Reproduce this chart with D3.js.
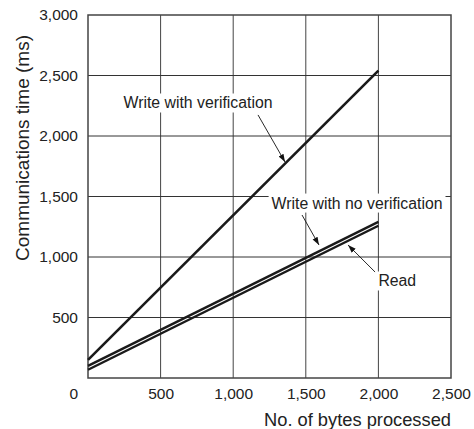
<!DOCTYPE html>
<html lang="en">
<head>
  <meta charset="UTF-8"/>
  <title>Communications time vs bytes processed</title>
  <style>
    *{margin:0;padding:0}
    body{background:#fff;font-family:"Liberation Sans",Arial,sans-serif}
    svg text{fill:#222}
  </style>
</head>
<body>
  <div id="chart"></div>
  <script src="https://d3js.org/d3.v7.min.js"></script>
  <script>
    // axis ticks
    const xTicks = [500, 1000, 1500, 2000, 2500];
    const yTicks = [500, 1000, 1500, 2000, 2500, 3000];

    // series: [bytes, ms] at both ends of each straight line
    const seriesNames = ['Write with verification', 'Write with no verification', 'Read'];
    const writeVerify   = [[0, 150], [2000, 2540]];
    const writeNoVerify = [[0, 100], [2000, 1290]];
    const readTime      = [[0, 68],  [2000, 1258]];

    // callouts: label position and arrow (from -> to), in data units
    const labelPos  = [[758, 2273], [1853, 1446], [2000, 802]];
    const arrowFrom = [[1171, 2174], [1474, 1347], [1977, 876]];
    const arrowTo   = [[1357, 1785], [1591, 1099], [1791, 1099]];

    const width = 474, height = 429;
    const m = {top:15, right:23, bottom:51, left:88};

    const x = d3.scaleLinear().domain([0, 2500]).range([m.left, width - m.right]);
    const y = d3.scaleLinear().domain([0, 3000]).range([height - m.bottom, m.top]);

    const svg = d3.select('#chart').append('svg')
      .attr('width', width).attr('height', height)
      .style('display', 'block');

    svg.append('defs').append('marker')
      .attr('id', 'arr').attr('viewBox', '0 0 10 10')
      .attr('refX', 10).attr('refY', 5)
      .attr('markerWidth', 8).attr('markerHeight', 8)
      .attr('markerUnits', 'userSpaceOnUse')
      .attr('orient', 'auto')
      .append('path').attr('d', 'M0,1.5L10,5L0,8.5Z').attr('fill', '#111');

    // grid
    const grid = svg.append('g');
    grid.selectAll('.vx').data(xTicks.slice(0, -1)).join('line')
      .attr('x1', d => x(d)).attr('x2', d => x(d))
      .attr('y1', y(0)).attr('y2', y(3000))
      .attr('stroke', '#444').attr('stroke-width', 1);
    grid.selectAll('.hy').data(yTicks.slice(0, -1)).join('line')
      .attr('y1', d => y(d)).attr('y2', d => y(d))
      .attr('x1', x(0)).attr('x2', x(2500))
      .attr('stroke', '#333').attr('stroke-width', 1);

    // frame
    svg.append('rect')
      .attr('x', x(0)).attr('y', y(3000))
      .attr('width', x(2500) - x(0)).attr('height', y(0) - y(3000))
      .attr('fill', 'none').attr('stroke', '#444').attr('stroke-width', 1.5);

    // axes (labels only)
    const xAxis = svg.append('g')
      .attr('transform', `translate(0,${y(0)})`)
      .call(d3.axisBottom(x).tickValues(xTicks).tickSize(0).tickPadding(10).tickFormat(d3.format(',')));
    const yAxis = svg.append('g')
      .attr('transform', `translate(${x(0)},0)`)
      .call(d3.axisLeft(y).tickValues(yTicks).tickSize(0).tickPadding(10).tickFormat(d3.format(',')));
    [xAxis, yAxis].forEach(a => {
      a.select('.domain').remove();
      a.selectAll('text').attr('font-size', 15.5).attr('fill', '#333')
        .attr('font-family', '"Liberation Sans",Arial,sans-serif');
    });
    svg.append('text')
      .attr('x', x(0) - 10).attr('y', y(0) + 10).attr('dy', '0.71em')
      .attr('text-anchor', 'end').attr('font-size', 15.5).attr('fill', '#333')
      .text('0');

    // lines
    const line = d3.line().x(d => x(d[0])).y(d => y(d[1]));
    svg.append('path').datum(writeVerify).attr('d', line)
      .attr('fill', 'none').attr('stroke', '#1a1a1a').attr('stroke-width', 2.6);
    [writeNoVerify, readTime].forEach(s => {
      svg.append('path').datum(s).attr('d', line)
        .attr('fill', 'none').attr('stroke', '#1a1a1a').attr('stroke-width', 2.4);
    });

    // callouts
    const anchors = ['middle', 'middle', 'start'];
    seriesNames.forEach((name, i) => {
      const t = svg.append('text')
        .attr('x', x(labelPos[i][0])).attr('y', y(labelPos[i][1]))
        .attr('dy', '0.35em').attr('text-anchor', anchors[i])
        .attr('font-size', 15.8).attr('fill', '#222')
        .text(name);
      const bb = t.node().getBBox();
      svg.insert('rect', () => t.node())
        .attr('x', bb.x - 3).attr('y', bb.y - 1)
        .attr('width', bb.width + 6).attr('height', bb.height + 2)
        .attr('fill', '#fff');
      svg.append('line')
        .attr('x1', x(arrowFrom[i][0])).attr('y1', y(arrowFrom[i][1]))
        .attr('x2', x(arrowTo[i][0])).attr('y2', y(arrowTo[i][1]))
        .attr('stroke', '#111').attr('stroke-width', 0.9)
        .attr('marker-end', 'url(#arr)');
    });

    // axis titles
    svg.append('text')
      .attr('x', width - m.right).attr('y', 420).attr('dy', '0.35em')
      .attr('text-anchor', 'end').attr('font-size', 18.3).attr('fill', '#222')
      .text('No. of bytes processed');
    svg.append('text')
      .attr('transform', 'translate(22,148) rotate(-90)')
      .attr('dy', '0.35em').attr('text-anchor', 'middle')
      .attr('font-size', 19).attr('fill', '#222')
      .text('Communications time (ms)');
  </script>
</body>
</html>
